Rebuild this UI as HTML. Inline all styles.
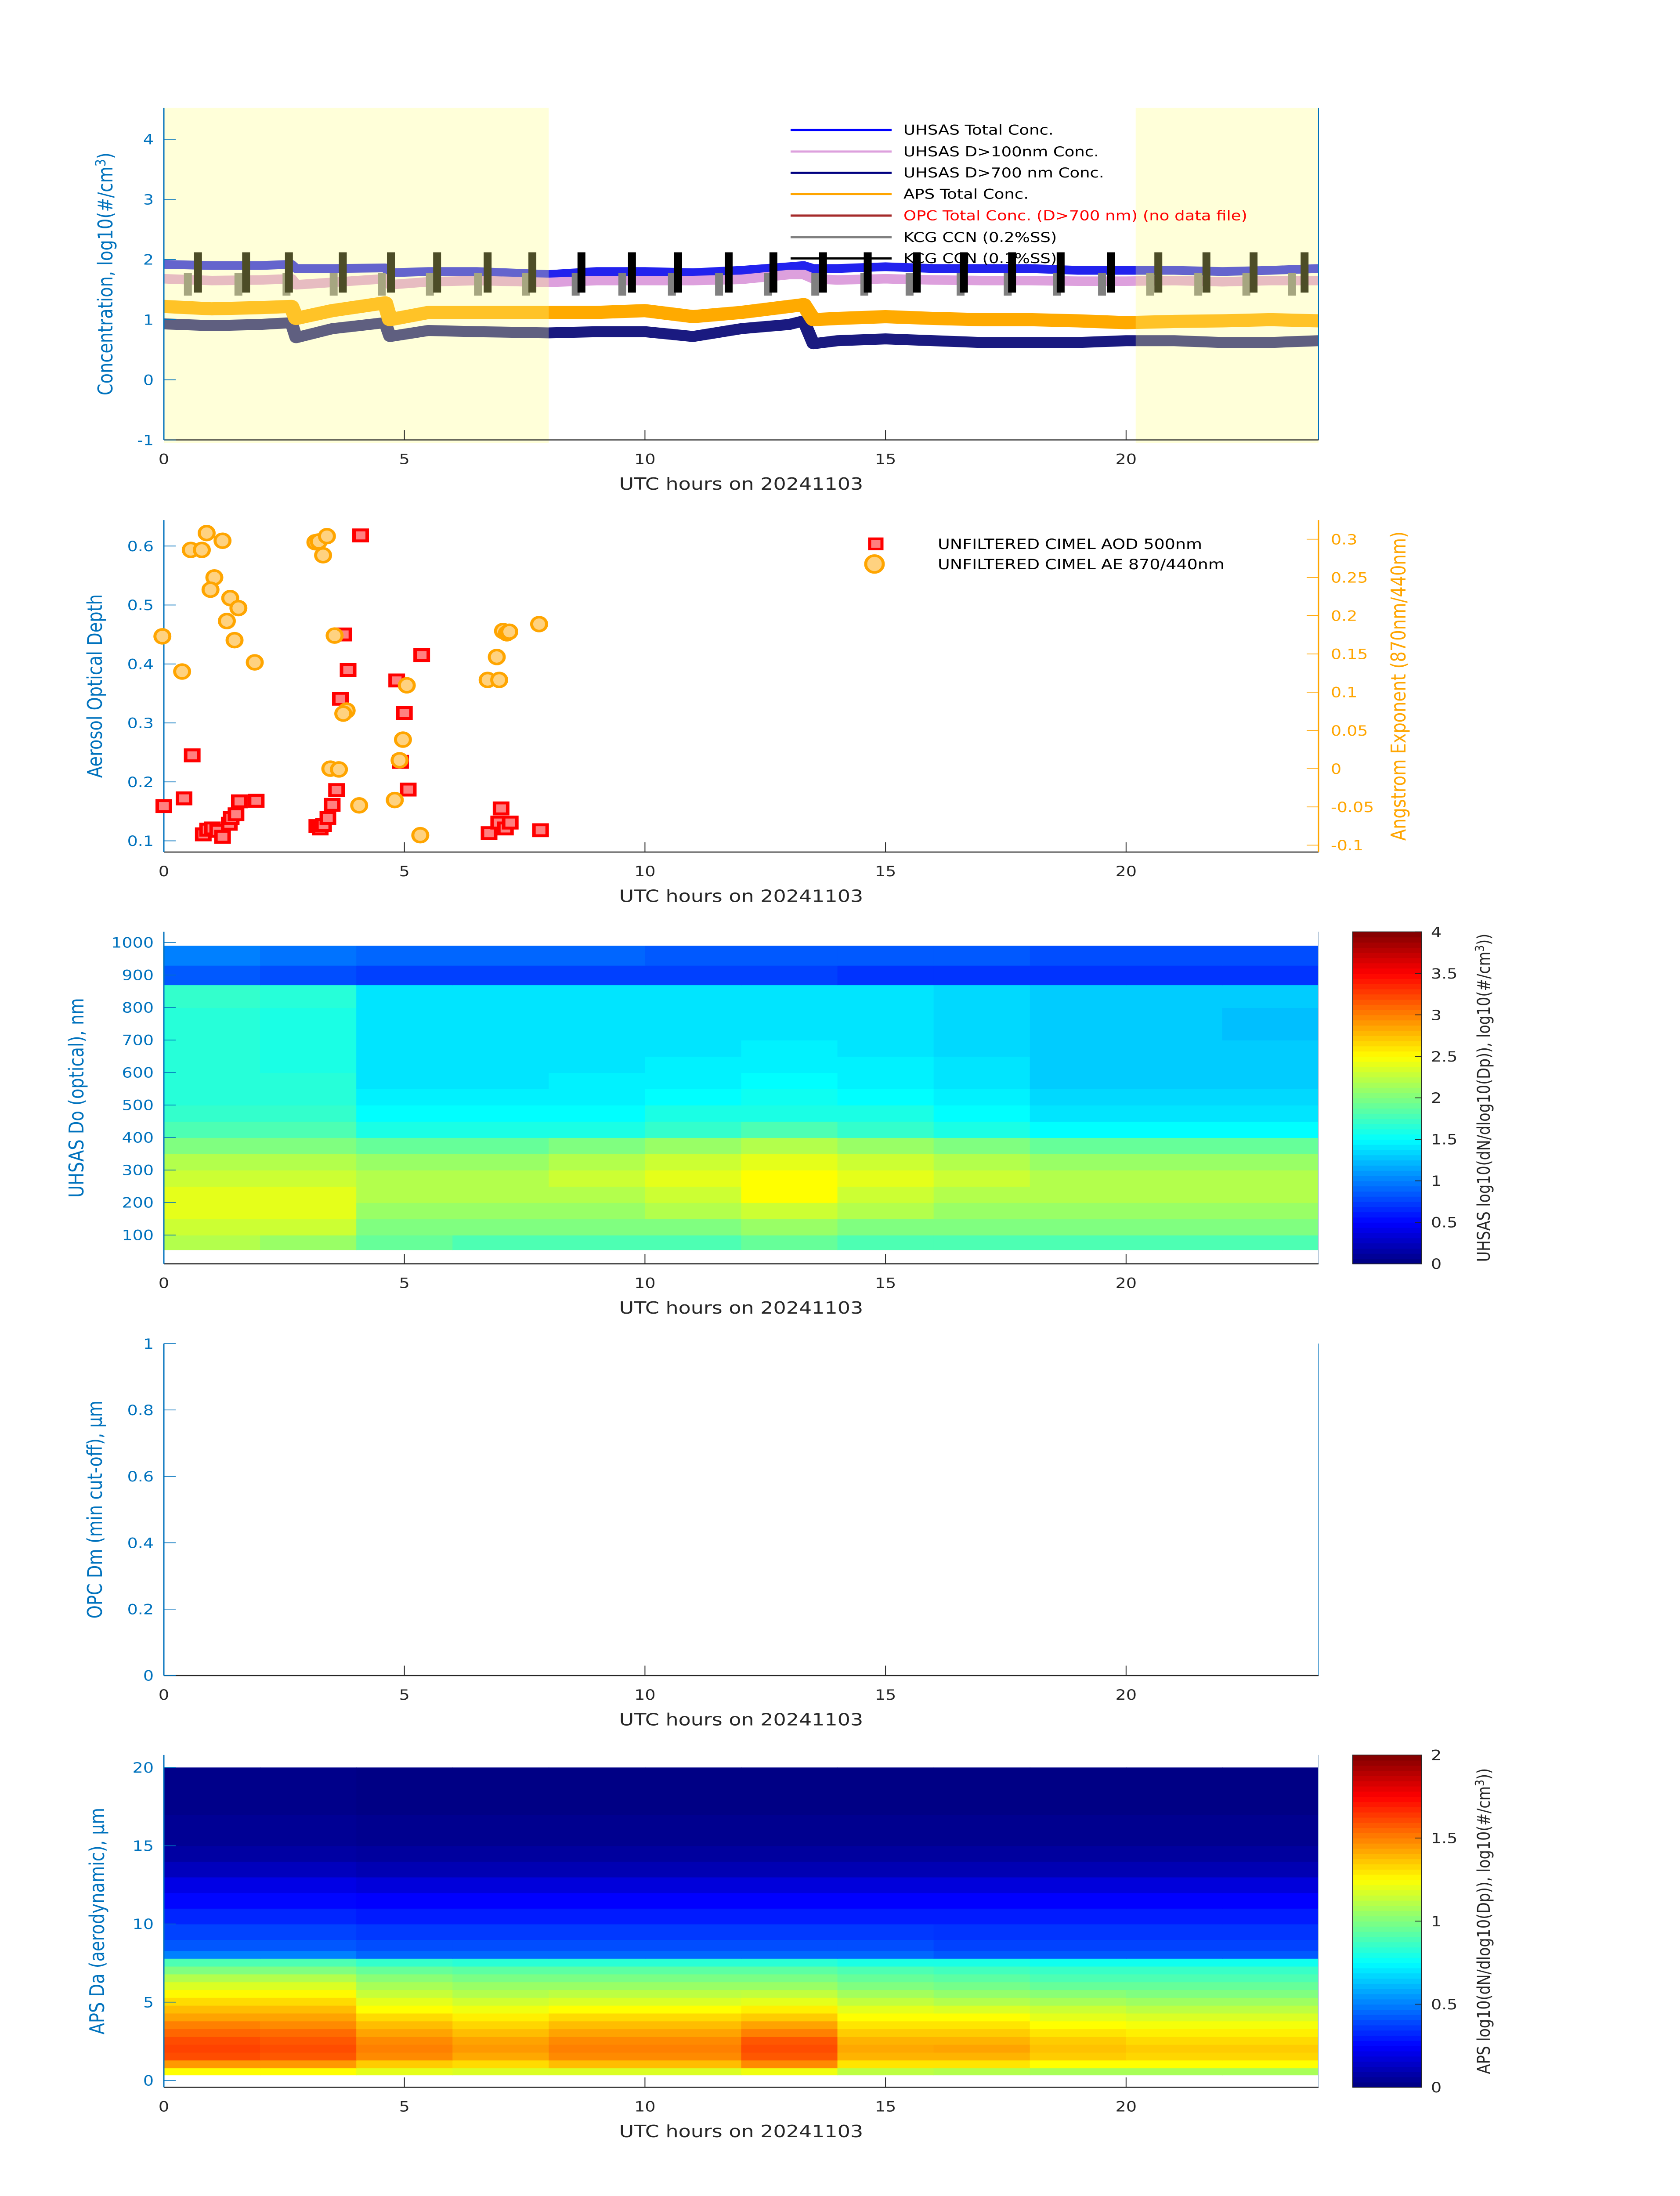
<!DOCTYPE html>
<html><head><meta charset="utf-8"><style>html,body{margin:0;padding:0;background:#fff;width:100%;height:100%;overflow:hidden}svg{display:block;position:fixed;left:0;top:0;width:100vw;height:100vh}text{font-family:"DejaVu Sans","Liberation Sans",sans-serif}</style></head>
<body>
<svg id="fig" xmlns="http://www.w3.org/2000/svg" viewBox="0 0 3825 6000" preserveAspectRatio="none">
<rect width="3825" height="6000" fill="#fff"/>
<g id="p1"></g>
<g id="p2"></g>
<g id="p3"></g>
<g id="p4"></g>
<g id="p5"></g>
</svg>
<script>
// ---------- data ----------
const xTicks=[0,5,10,15,20];
const shadeStart=[0,20.2];
const shadeEnd=[8,24];
const seriesTimes=[0,1,2,2.65,2.75,3.5,4.6,4.7,5.5,6.5,8,9,10,11,12,13,13.3,13.5,14,15,16,17,18,19,20,21,22,23,24];
const uhsasTotal=[1.92,1.9,1.9,1.92,1.85,1.85,1.86,1.78,1.8,1.8,1.75,1.8,1.8,1.78,1.82,1.88,1.9,1.85,1.85,1.88,1.85,1.85,1.85,1.82,1.82,1.82,1.8,1.82,1.85];
const uhsas100=[1.68,1.65,1.66,1.68,1.58,1.62,1.68,1.58,1.63,1.65,1.62,1.65,1.65,1.65,1.67,1.75,1.75,1.68,1.66,1.68,1.66,1.65,1.65,1.64,1.64,1.65,1.63,1.65,1.65];
const apsTotal=[1.22,1.18,1.2,1.22,1.02,1.15,1.28,1.0,1.12,1.12,1.12,1.12,1.15,1.05,1.12,1.22,1.25,1.0,1.02,1.05,1.02,1.0,1.0,0.98,0.95,0.97,0.98,1.0,0.98];
const uhsas700=[0.93,0.9,0.92,0.95,0.7,0.85,0.95,0.72,0.82,0.8,0.78,0.8,0.8,0.72,0.85,0.92,0.98,0.6,0.65,0.68,0.65,0.62,0.62,0.62,0.65,0.65,0.62,0.62,0.65];
const ccn1Times=[0.71,1.71,2.6,3.72,4.72,5.68,6.73,7.66,8.68,9.73,10.69,11.74,12.67,13.7,14.63,15.65,16.63,17.63,18.64,19.69,20.67,21.67,22.65,23.71];
const ccn2Times=[0.5,1.55,2.55,3.53,4.53,5.53,6.53,7.53,8.56,9.53,10.56,11.54,12.56,13.54,14.56,15.5,16.56,17.54,18.56,19.5,20.5,21.5,22.5,23.45];
const ccn1Top=2.12, ccn1Bot=1.45, ccn2Top=1.78, ccn2Bot=1.4;
const p1YTicks=[-1,0,1,2,3,4];
const legend1Labels=["UHSAS Total Conc.","UHSAS D>100nm Conc.","UHSAS D>700 nm Conc.","APS Total Conc.","OPC Total Conc. (D>700 nm) (no data file)","KCG CCN (0.2%SS)","KCG CCN (0.1%SS)"];

const aodHours=[0.0,0.42,0.59,0.82,0.91,1.01,1.12,1.22,1.36,1.40,1.50,1.57,1.92,3.18,3.25,3.32,3.41,3.50,3.59,3.74,3.83,3.67,4.09,4.84,5.0,4.92,5.08,5.36,6.76,6.96,7.01,7.10,7.20,7.83];
const aodValues=[0.159,0.172,0.245,0.111,0.119,0.121,0.117,0.107,0.129,0.139,0.145,0.167,0.168,0.125,0.121,0.127,0.139,0.161,0.186,0.450,0.390,0.341,0.618,0.372,0.317,0.234,0.187,0.415,0.113,0.131,0.155,0.121,0.131,0.118];
const aeHours=[-0.03,0.38,0.56,0.79,0.89,1.22,1.05,0.97,1.38,1.55,1.31,1.47,1.89,3.15,3.22,3.39,3.31,3.55,3.80,3.73,3.46,3.64,4.06,4.80,4.90,4.97,5.05,5.33,6.73,6.97,6.92,7.05,7.13,7.18,7.80];
const aeValues=[0.173,0.127,0.286,0.286,0.308,0.298,0.250,0.234,0.223,0.210,0.193,0.168,0.139,0.296,0.297,0.304,0.279,0.174,0.076,0.072,0.0,-0.001,-0.048,-0.041,0.011,0.038,0.109,-0.087,0.116,0.116,0.146,0.180,0.177,0.179,0.189];
const aodTicks=[0.1,0.2,0.3,0.4,0.5,0.6];
const aeTicks=[-0.1,-0.05,0,0.05,0.1,0.15,0.2,0.25,0.3];
const aeTickLabels=["-0.1","-0.05","0","0.05","0.1","0.15","0.2","0.25","0.3"];

const heatTimeEdges=[0,2,4,6,8,10,12,14,16,18,20,22,24];
const uhsasSizeEdges=[55,100,150,200,250,300,350,400,450,500,550,600,650,700,750,800,870,930,990];
const uhsasValues=[
[2.2,2.1,1.9,1.8,1.8,1.8,1.9,1.8,1.8,1.8,1.8,1.8],
[2.3,2.3,2.0,2.0,2.0,2.0,2.1,2.0,2.0,2.0,2.0,2.0],
[2.4,2.4,2.1,2.1,2.1,2.2,2.3,2.2,2.1,2.1,2.1,2.1],
[2.4,2.4,2.2,2.2,2.2,2.3,2.5,2.3,2.2,2.2,2.2,2.2],
[2.3,2.3,2.2,2.2,2.3,2.4,2.5,2.4,2.3,2.2,2.2,2.2],
[2.2,2.2,2.1,2.1,2.2,2.3,2.4,2.3,2.2,2.1,2.1,2.1],
[2.0,2.0,1.9,1.9,2.0,2.1,2.2,2.1,2.0,1.9,1.9,1.9],
[1.8,1.8,1.6,1.6,1.6,1.7,1.8,1.7,1.6,1.5,1.5,1.5],
[1.7,1.7,1.5,1.5,1.5,1.6,1.6,1.6,1.5,1.4,1.4,1.4],
[1.65,1.65,1.45,1.45,1.45,1.5,1.55,1.5,1.45,1.35,1.35,1.35],
[1.65,1.65,1.4,1.4,1.45,1.45,1.5,1.45,1.4,1.3,1.3,1.3],
[1.65,1.6,1.4,1.4,1.4,1.45,1.45,1.45,1.4,1.3,1.3,1.3],
[1.65,1.6,1.4,1.4,1.4,1.4,1.45,1.4,1.35,1.3,1.3,1.3],
[1.65,1.6,1.4,1.4,1.4,1.4,1.4,1.4,1.35,1.3,1.3,1.25],
[1.65,1.6,1.4,1.4,1.4,1.4,1.4,1.4,1.35,1.3,1.3,1.25],
[1.7,1.65,1.4,1.4,1.4,1.4,1.4,1.4,1.35,1.3,1.3,1.3],
[0.85,0.8,0.75,0.75,0.75,0.75,0.75,0.7,0.7,0.7,0.7,0.7],
[1.0,0.95,0.9,0.9,0.9,0.85,0.85,0.85,0.85,0.8,0.8,0.8]];
const uhsasYTicks=[100,200,300,400,500,600,700,800,900,1000];
const uhsasCbTicks=[0,0.5,1,1.5,2,2.5,3,3.5,4];
const uhsasCbLabels=["0","0.5","1","1.5","2","2.5","3","3.5","4"];

const opcYTicks=[0,0.2,0.4,0.6,0.8,1];
const opcYLabels=["0","0.2","0.4","0.6","0.8","1"];

const apsSizeEdges=[0.35,0.8,1.3,1.8,2.3,2.8,3.3,3.8,4.3,4.8,5.3,5.8,6.3,6.8,7.3,7.8,8.3,9,10,11,12,13,14,15,17,20];
const apsValues=[
[1.25,1.25,1.2,1.18,1.18,1.18,1.22,1.12,1.1,1.08,1.08,1.08],
[1.45,1.45,1.35,1.32,1.38,1.38,1.48,1.3,1.3,1.25,1.25,1.25],
[1.6,1.58,1.48,1.42,1.48,1.48,1.58,1.4,1.4,1.35,1.33,1.33],
[1.62,1.6,1.5,1.45,1.5,1.5,1.6,1.42,1.43,1.37,1.35,1.35],
[1.6,1.58,1.48,1.43,1.48,1.48,1.58,1.4,1.4,1.35,1.32,1.32],
[1.55,1.54,1.43,1.38,1.43,1.43,1.5,1.35,1.35,1.3,1.28,1.28],
[1.5,1.48,1.38,1.33,1.38,1.38,1.43,1.3,1.3,1.25,1.23,1.23],
[1.43,1.43,1.32,1.28,1.32,1.32,1.35,1.25,1.25,1.2,1.18,1.18],
[1.38,1.38,1.25,1.22,1.25,1.25,1.28,1.2,1.18,1.15,1.12,1.12],
[1.32,1.32,1.2,1.16,1.18,1.18,1.2,1.13,1.1,1.08,1.06,1.06],
[1.26,1.26,1.14,1.1,1.12,1.12,1.13,1.07,1.04,1.02,1.0,1.0],
[1.18,1.18,1.08,1.05,1.05,1.05,1.05,1.0,0.98,0.95,0.95,0.95],
[1.1,1.1,1.02,0.99,0.99,0.99,0.99,0.95,0.93,0.9,0.9,0.9],
[1.0,1.0,0.95,0.93,0.93,0.93,0.93,0.9,0.88,0.86,0.86,0.86],
[0.9,0.9,0.85,0.83,0.83,0.83,0.83,0.8,0.8,0.78,0.78,0.78],
[0.5,0.5,0.45,0.45,0.45,0.45,0.45,0.45,0.42,0.42,0.42,0.42],
[0.42,0.42,0.4,0.4,0.4,0.4,0.4,0.4,0.38,0.38,0.38,0.38],
[0.38,0.38,0.36,0.36,0.36,0.36,0.36,0.36,0.35,0.35,0.35,0.35],
[0.32,0.32,0.3,0.3,0.3,0.3,0.3,0.3,0.3,0.3,0.3,0.3],
[0.26,0.26,0.25,0.25,0.25,0.25,0.25,0.25,0.25,0.25,0.25,0.25],
[0.2,0.2,0.18,0.18,0.18,0.18,0.18,0.18,0.18,0.18,0.18,0.18],
[0.12,0.12,0.1,0.1,0.1,0.1,0.1,0.1,0.1,0.1,0.1,0.1],
[0.07,0.07,0.06,0.06,0.06,0.06,0.06,0.06,0.06,0.06,0.06,0.06],
[0.04,0.04,0.03,0.03,0.03,0.03,0.03,0.03,0.03,0.03,0.03,0.03],
[0.02,0.02,0.01,0.01,0.01,0.01,0.01,0.01,0.01,0.01,0.01,0.01]];
const apsYTicks=[0,5,10,15,20];
const apsCbTicks=[0,0.5,1,1.5,2];
const apsCbLabels=["0","0.5","1","1.5","2"];

// ---------- helpers ----------
const NS="http://www.w3.org/2000/svg";
function mk(parent,tag,attrs,txt){const e=document.createElementNS(NS,tag);for(const k in attrs)e.setAttribute(k,attrs[k]);if(txt!==undefined)e.textContent=txt;parent.appendChild(e);return e;}
const X0=373,X1=3002;
function xs(h){return X0+h*(X1-X0)/24;}
function lin(d0,d1,r0,r1){return v=>r0+(v-d0)*(r1-r0)/(d1-d0);}
function jet(t){t=Math.max(0,Math.min(1,t));const c=v=>Math.round(255*Math.max(0,Math.min(1,v)));return `rgb(${c(1.5-Math.abs(4*t-3))},${c(1.5-Math.abs(4*t-2))},${c(1.5-Math.abs(4*t-1))})`;}
const BLUE="#0072BD";
function xAxis(g,bottom){
  const ax=mk(g,'g',{});
  
  
  mk(ax,'line',{x1:X0,y1:bottom,x2:X1,y2:bottom,stroke:'#262626','stroke-width':3});
  xTicks.forEach(t=>{
    mk(ax,'line',{x1:xs(t),y1:bottom,x2:xs(t),y2:bottom-27,stroke:'#262626','stroke-width':2});
    const l=mk(ax,'text',{x:xs(t),y:bottom+66,'font-size':38,'text-anchor':'middle',fill:'#262626'},String(t));
    
    
  });
  const tt=mk(ax,'text',{x:(X0+X1)/2,y:bottom+136,'font-size':46,'text-anchor':'middle',fill:'#262626'},'UTC hours on 20241103');
  
  
}
function yAxis(g,top,bottom,ticks,labels,ys,color,title,tx){
  const ax=mk(g,'g',{});
  
  
  mk(ax,'line',{x1:X0,y1:top,x2:X0,y2:bottom,stroke:color,'stroke-width':3});
  ticks.forEach((t,i)=>{
    mk(ax,'line',{x1:X0,y1:ys(t),x2:X0+27,y2:ys(t),stroke:color,'stroke-width':2});
    const l=mk(ax,'text',{x:350,y:ys(t)+14,'font-size':38,'text-anchor':'end',fill:color},labels[i]);
    
    
  });
  const cy=(top+bottom)/2;
  const tt=mk(ax,'text',{x:tx,y:cy,'font-size':46,'text-anchor':'middle',fill:color,transform:`rotate(-90 ${tx} ${cy})`});
  tt.innerHTML=title;
  
  
}
function colorbar(g,top,bottom,vmax,ticks,labels,title){
  const cb=mk(g,'g',{});
  
  
  const cx0=3080,cx1=3237,n=64,h=(bottom-top)/n;
  for(let i=0;i<n;i++){mk(cb,'rect',{x:cx0,y:bottom-(i+1)*h,width:cx1-cx0,height:h+1,fill:jet((i+0.5)/n)});}
  mk(cb,'rect',{x:cx0,y:top,width:cx1-cx0,height:bottom-top,fill:'none',stroke:'#262626','stroke-width':2});
  const ys=lin(0,vmax,bottom,top);
  ticks.forEach((t,i)=>{
    mk(cb,'line',{x1:cx1,y1:ys(t),x2:cx1-15,y2:ys(t),stroke:'#262626','stroke-width':2});
    const l=mk(cb,'text',{x:3258,y:ys(t)+14,'font-size':38,fill:'#262626'},labels[i]);
    
    
  });
  const cy=(top+bottom)/2;
  const tt=mk(cb,'text',{x:3392,y:cy,'font-size':40,'text-anchor':'middle',fill:'#262626',transform:`rotate(-90 3392 ${cy})`});
  tt.innerHTML=title;
  
  
}
function heatmap(g,timeEdges,sizeEdges,vals,ys,vmax){
  const hm=mk(g,'g',{});
  
  
  for(let r=0;r<vals.length;r++)for(let c=0;c<vals[r].length;c++){
    const x0=xs(timeEdges[c]),x1=xs(timeEdges[c+1]),y0=ys(sizeEdges[r+1]),y1=ys(sizeEdges[r]);
    const cell=mk(hm,'rect',{x:x0,y:y0,width:x1-x0+1,height:y1-y0+1,fill:jet(vals[r][c]/vmax)});
    
    
  }
}

// ---------- panel 1 ----------
(function(){
  const g=document.getElementById('p1');const top=295,bottom=1202;
  const ys=lin(-1,4.52,bottom,top);
  const clip=mk(g,'clipPath',{id:'c1'});mk(clip,'rect',{x:X0,y:top,width:X1-X0,height:bottom-top});
  const plot=mk(g,'g',{'clip-path':'url(#c1)'});
  function line(vals,color,w,name){
    const pl=mk(plot,'polyline',{points:seriesTimes.map((t,i)=>xs(t)+','+ys(vals[i])).join(' '),fill:'none',stroke:color,'stroke-width':w,'stroke-linejoin':'round'});
    
    
  }
  line(uhsas700,'#1a1a80',30,'uhsas-d700-line');
  line(apsTotal,'#ffaa00',36,'aps-total-line');
  line(uhsasTotal,'#2222ee',24,'uhsas-total-line');
  line(uhsas100,'#dda0dd',26,'uhsas-d100-line');
  ccn2Times.forEach(t=>{const r=mk(plot,'rect',{x:xs(t)-9,y:ys(ccn2Top),width:18,height:ys(ccn2Bot)-ys(ccn2Top),fill:'#808080'});
    
    });
  ccn1Times.forEach(t=>{const r=mk(plot,'rect',{x:xs(t)-9,y:ys(ccn1Top),width:18,height:ys(ccn1Bot)-ys(ccn1Top),fill:'#000'});
    
    });
  shadeStart.forEach((s,i)=>{const r=mk(g,'rect',{x:xs(s),y:top,width:xs(shadeEnd[i])-xs(s),height:bottom-top+8,fill:'#ffff80',opacity:0.3});
    
    });
  mk(g,'line',{x1:X1,y1:top,x2:X1,y2:bottom,stroke:BLUE,'stroke-width':2});
  xAxis(g,bottom);
  yAxis(g,top,bottom,p1YTicks,p1YTicks.map(String),ys,BLUE,'Concentration, log10(#/cm<tspan dy="-16" font-size="32">3</tspan><tspan dy="16">)</tspan>',256);
  const colors=['#0000ff','#dda0dd','#000080','#ffa500','#a52a2a','#808080','#000000'];
  const rows=[355,414,472,530,589,648,706];
  const lg=mk(g,'g',{});
  
  
  legend1Labels.forEach((lab,i)=>{
    mk(lg,'line',{x1:1800,y1:rows[i],x2:2030,y2:rows[i],stroke:colors[i],'stroke-width':6});
    const t=mk(lg,'text',{x:2057,y:rows[i]+13,'font-size':37,fill:i==4?'#ff0000':'#000'},lab);
    
    
  });
})();

// ---------- panel 2 ----------
(function(){
  const g=document.getElementById('p2');const top=1421,bottom=2328;
  const ysL=lin(0.081,0.644,bottom,top), ysR=lin(-0.109,0.325,bottom,top);
  xAxis(g,bottom);
  yAxis(g,top,bottom,aodTicks,aodTicks.map(String),ysL,BLUE,'Aerosol Optical Depth',232);
  const OR='#ffa500';
  mk(g,'line',{x1:X1,y1:top,x2:X1,y2:bottom,stroke:OR,'stroke-width':3});
  aeTicks.forEach((t,i)=>{mk(g,'line',{x1:X1,y1:ysR(t),x2:X1-27,y2:ysR(t),stroke:OR,'stroke-width':2});
    const l=mk(g,'text',{x:3030,y:ysR(t)+14,'font-size':38,fill:OR},aeTickLabels[i]);
    
    });
  const cy=(top+bottom)/2;
  const rt=mk(g,'text',{x:3200,y:cy,'font-size':46,'text-anchor':'middle',fill:OR,transform:`rotate(-90 3200 ${cy})`},'Angstrom Exponent (870nm/440nm)');
  
  
  aodHours.forEach((h,i)=>{const r=mk(g,'rect',{x:xs(h)-15,y:ysL(aodValues[i])-15,width:30,height:30,fill:'#ff8080',stroke:'#ff0000','stroke-width':8});
    
    });
  aeHours.forEach((h,i)=>{const c=mk(g,'ellipse',{cx:xs(h),cy:ysR(aeValues[i]),rx:17,ry:19,fill:'#ffd280',stroke:'#ffa500','stroke-width':7});
    
    });
  const lg=mk(g,'g',{});
  
  
  mk(lg,'rect',{x:1980,y:1472,width:28,height:28,fill:'#ff8080',stroke:'#ff0000','stroke-width':7});
  mk(lg,'ellipse',{cx:1991,cy:1541,rx:20,ry:23,fill:'#ffd280',stroke:'#ffa500','stroke-width':7});
  const t1=mk(lg,'text',{x:2135,y:1500,'font-size':38,fill:'#000'},'UNFILTERED CIMEL AOD 500nm');
  
  
  const t2=mk(lg,'text',{x:2135,y:1555,'font-size':38,fill:'#000'},'UNFILTERED CIMEL AE 870/440nm');
  
  
})();

// ---------- panel 3 ----------
(function(){
  const g=document.getElementById('p3');const top=2546,bottom=3453;
  const ys=lin(11.6,1033,bottom,top);
  heatmap(g,heatTimeEdges,uhsasSizeEdges,uhsasValues,ys,4);
  mk(g,'line',{x1:X1,y1:top,x2:X1,y2:bottom,stroke:'#bcd',"stroke-width":2});
  xAxis(g,bottom);
  yAxis(g,top,bottom,uhsasYTicks,uhsasYTicks.map(String),ys,BLUE,'UHSAS Do (optical), nm',190);
  colorbar(g,top,bottom,4,uhsasCbTicks,uhsasCbLabels,'UHSAS log10(dN/dlog10(Dp)), log10(#/cm<tspan dy="-14" font-size="28">3</tspan><tspan dy="14">))</tspan>');
})();

// ---------- panel 4 ----------
(function(){
  const g=document.getElementById('p4');const top=3671,bottom=4578;
  const ys=lin(0,1,bottom,top);
  mk(g,'line',{x1:X1,y1:top,x2:X1,y2:bottom,stroke:BLUE,'stroke-width':2,opacity:0.6});
  xAxis(g,bottom);
  yAxis(g,top,bottom,opcYTicks,opcYLabels,ys,BLUE,'OPC Dm (min cut-off), μm',232);
})();

// ---------- panel 5 ----------
(function(){
  const g=document.getElementById('p5');const top=4795,bottom=5703;
  const ys=lin(-0.44,20.8,bottom,top);
  heatmap(g,heatTimeEdges,apsSizeEdges,apsValues,ys,2);
  mk(g,'line',{x1:X1,y1:top,x2:X1,y2:bottom,stroke:'#bcd','stroke-width':2});
  xAxis(g,bottom);
  yAxis(g,top,bottom,apsYTicks,apsYTicks.map(String),ys,BLUE,'APS Da (aerodynamic), μm',237);
  colorbar(g,top,bottom,2,apsCbTicks,apsCbLabels,'APS log10(dN/dlog10(Dp)), log10(#/cm<tspan dy="-14" font-size="28">3</tspan><tspan dy="14">))</tspan>');
})();
</script>
</body></html>
